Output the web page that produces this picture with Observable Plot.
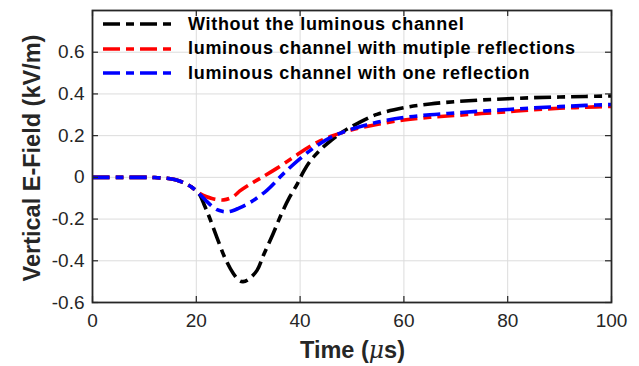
<!DOCTYPE html>
<html>
<head>
<meta charset="utf-8">
<script src="https://cdn.jsdelivr.net/npm/d3@7"></script>
<script src="https://cdn.jsdelivr.net/npm/@observablehq/plot@0.6"></script>
<style>
  html, body { margin: 0; padding: 0; background: #fff; }
  #wrap { position: relative; width: 639px; height: 366px; font-family: "Liberation Sans", Arial, sans-serif; }
  #legend { position: absolute; left: 103px; top: 12px; }
  .row { display: flex; align-items: center; height: 24.5px; }
  .row span { font-weight: bold; font-size: 18px; letter-spacing: 0.7px; color: #000; margin-left: 12px; white-space: nowrap; }
</style>
</head>
<body>
<div id="wrap"><div id="legend"></div></div>
<script>
// Series names
const seriesNames = [
  "Without the luminous channel",
  "luminous channel with mutiple reflections",
  "luminous channel with one reflection"
];
const seriesColors = ["#000000", "#ff0000", "#0000ff"];

// Time (µs) and field (kV/m) for each series
const tBlack = [0, 5, 10, 12, 14, 15, 16, 17, 18, 19, 20, 20.7, 21.5, 22.5, 24, 25.5, 27.1, 28.3, 29, 30, 31.7, 33, 34.8, 36.5, 38, 39.5, 40.6, 42, 43.9, 46, 48.3, 51, 54.8, 60, 65, 70, 75, 80, 85, 90, 95, 100];
const vBlack = [0, 0, 0, -0.001, -0.004, -0.007, -0.012, -0.02, -0.03, -0.045, -0.065, -0.085, -0.13, -0.19, -0.29, -0.385, -0.46, -0.495, -0.5, -0.49, -0.446, -0.37, -0.27, -0.17, -0.094, -0.03, 0.025, 0.08, 0.132, 0.178, 0.22, 0.258, 0.302, 0.334, 0.352, 0.363, 0.371, 0.377, 0.382, 0.385, 0.388, 0.39];

const tRed = [0, 5, 10, 12, 14, 15, 16, 17, 18, 19, 20, 20.7, 22, 23, 24, 25.3, 26.5, 27.5, 28.4, 30, 32.3, 35.5, 38.7, 41, 43.3, 46, 50, 55, 60, 65, 70, 75, 80, 85, 90, 95, 100];
const vRed = [0, 0, 0, -0.001, -0.004, -0.007, -0.012, -0.02, -0.03, -0.045, -0.065, -0.078, -0.093, -0.101, -0.106, -0.108, -0.1, -0.085, -0.065, -0.038, -0.005, 0.043, 0.096, 0.135, 0.168, 0.197, 0.228, 0.255, 0.275, 0.288, 0.297, 0.306, 0.315, 0.324, 0.331, 0.336, 0.34];

const tBlue = [0, 5, 10, 12, 14, 15, 16, 17, 18, 19, 20, 20.7, 22, 23, 24, 25, 26, 27, 28, 30.4, 33.6, 36.8, 40, 43, 46, 50, 55, 60, 65, 70, 75, 80, 85, 90, 95, 100];
const vBlue = [0, 0, 0, -0.001, -0.004, -0.007, -0.012, -0.02, -0.03, -0.045, -0.065, -0.082, -0.115, -0.138, -0.155, -0.163, -0.165, -0.16, -0.15, -0.12, -0.062, 0.018, 0.09, 0.148, 0.193, 0.232, 0.265, 0.287, 0.3, 0.309, 0.318, 0.325, 0.333, 0.339, 0.345, 0.349];

// Axis ticks
const xTicks = [0, 20, 40, 60, 80, 100];
const yTicks = [-0.6, -0.4, -0.2, 0, 0.2, 0.4, 0.6];
const yTickLabels = ["-0.6", "-0.4", "-0.2", "0", "0.2", "0.4", "0.6"];

const rows = [];
[[tBlack, vBlack], [tRed, vRed], [tBlue, vBlue]].forEach(([ts, vs], i) => {
  ts.forEach((t, j) => rows.push({t, v: vs[j], s: seriesNames[i]}));
});

const dash = "17,6,8,6";
const W = 639, H = 366;
const mL = 92, mR = 28, mT = 10, mB = 64;
const innerH = H - mT - mB;
const innerW = W - mL - mR;
const tickLen = 6;
const axisColor = "#262626";

const chart = Plot.plot({
  width: W,
  height: H,
  marginLeft: mL,
  marginRight: mR,
  marginTop: mT,
  marginBottom: mB,
  style: {fontFamily: "'Liberation Sans', Arial, sans-serif", background: "#fff"},
  x: {domain: [0, 100]},
  y: {domain: [-0.6, 0.8]},
  color: {domain: seriesNames, range: seriesColors},
  marks: [
    Plot.gridX(xTicks, {stroke: "#dcdcdc", strokeOpacity: 1, strokeWidth: 1}),
    Plot.gridY(yTicks, {stroke: "#dcdcdc", strokeOpacity: 1, strokeWidth: 1}),
    Plot.line(rows, {
      x: "t", y: "v", z: "s", stroke: "s",
      strokeWidth: 3.6, strokeDasharray: dash, strokeLinecap: "butt",
      curve: "catmull-rom"
    }),
    // inward ticks on all four sides
    Plot.tickX(xTicks, {x: d => d, stroke: axisColor, strokeWidth: 1.2, insetTop: innerH - tickLen}),
    Plot.tickX(xTicks, {x: d => d, stroke: axisColor, strokeWidth: 1.2, insetBottom: innerH - tickLen}),
    Plot.tickY(yTicks, {y: d => d, stroke: axisColor, strokeWidth: 1.2, insetRight: innerW - tickLen}),
    Plot.tickY(yTicks, {y: d => d, stroke: axisColor, strokeWidth: 1.2, insetLeft: innerW - tickLen}),
    Plot.frame({stroke: axisColor, strokeWidth: 1.8}),
    Plot.axisX({
      ticks: xTicks, tickSize: 0, tickPadding: 11,
      fontSize: 19, color: axisColor,
      label: null
    }),
    Plot.axisY({
      ticks: yTicks, tickSize: 0, tickPadding: 8,
      tickFormat: d => yTickLabels[yTicks.indexOf(d)],
      fontSize: 19, color: axisColor,
      label: null
    })
  ]
});

// axis titles as real text within the SVG
const svg = d3.select(chart);
svg.append("text")
  .attr("x", mL + innerW / 2 + 1)
  .attr("y", 358)
  .attr("text-anchor", "middle")
  .attr("font-size", 23.5)
  .attr("font-weight", "bold")
  .attr("fill", axisColor)
  .attr("font-family", "'Liberation Sans', Arial, sans-serif")
  .call(t => {
    t.append("tspan").text("Time (");
    t.append("tspan").attr("font-style", "italic").attr("font-weight", "normal").attr("font-family", "'DejaVu Serif', serif").text("\u03bc");
    t.append("tspan").text("s)");
  });
svg.append("text")
  .attr("transform", `translate(40, ${mT + innerH / 2 + 2}) rotate(-90)`)
  .attr("text-anchor", "middle")
  .attr("font-size", 23.5)
  .attr("font-weight", "bold")
  .attr("fill", axisColor)
  .attr("font-family", "'Liberation Sans', Arial, sans-serif")
  .text("Vertical E-Field (kV/m)");

document.getElementById("wrap").prepend(chart);

// legend (no box)
const legend = document.getElementById("legend");
seriesNames.forEach((name, i) => {
  const row = document.createElement("div");
  row.className = "row";
  row.innerHTML = `<svg width="73" height="6"><line x1="0" y1="3" x2="73" y2="3" stroke="${seriesColors[i]}" stroke-width="3.6" stroke-dasharray="${dash}"/></svg><span>${name}</span>`;
  legend.appendChild(row);
});
</script>
</body>
</html>
